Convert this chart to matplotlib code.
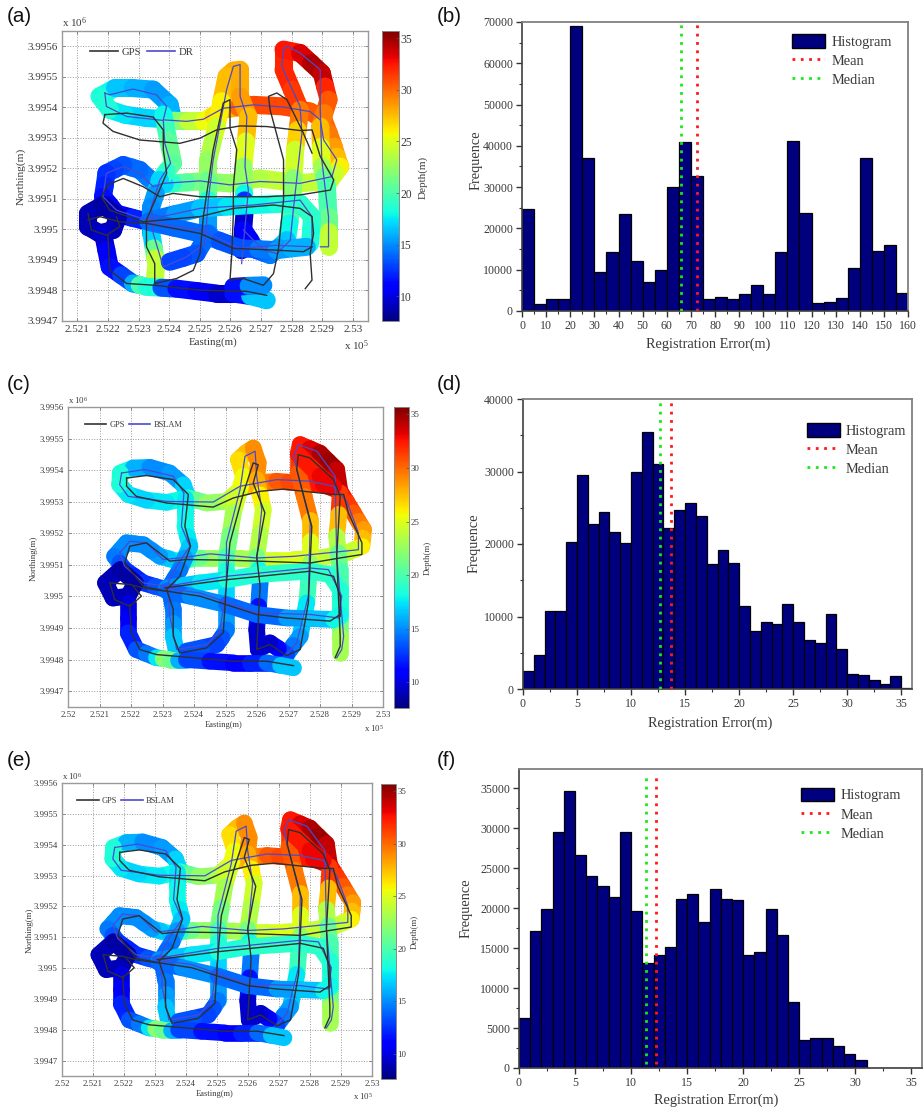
import matplotlib
matplotlib.use("Agg")
import numpy as np
import matplotlib.pyplot as plt
from matplotlib.collections import LineCollection
from matplotlib.colors import Normalize
from matplotlib.cm import ScalarMappable
from matplotlib.lines import Line2D
from matplotlib.patches import Patch
from matplotlib.ticker import FuncFormatter, MultipleLocator

plt.rcParams['font.family'] = ['Liberation Serif', 'DejaVu Serif']
plt.rcParams['mathtext.default'] = 'regular'

EAST0 = 252000
NORTH0 = 3994000

# Tracks: (easting offset m, northing offset m[, depth m])
ROADS_A = [
    [(173,1436,19),(222,1463,17),(282,1463,16),(348,1458,16),(402,1408,15),(413,1359,17),(326,1365,17),(255,1376,17),(206,1392,18),(173,1436,19)],
    [(413,1354,21),(462,1354,23),(512,1354,25),(545,1373,26),(577,1392,27),(626,1400,29),(675,1408,31),(774,1403,31),(861,1386,31),(905,1359,30),(922,1315,30),(938,1271,29),(948,1238,28),(959,1206,27),(943,1184,25),(927,1162,24),(878,1156,24),(828,1151,24),(762,1159,24),(697,1167,24),(648,1159,23),(599,1151,23),(550,1154,22),(501,1157,22),(457,1154,21),(413,1151,20),(386,1148,18),(359,1146,16),(331,1170,15),(304,1195,14),(277,1203,14),(250,1211,14),(222,1197,13),(195,1184,13),(190,1145,12),(184,1107,12),(206,1080,11),(228,1052,10),(280,1038,11),(332,1025,13)],
    [(381,1376,17),(389,1335,19),(397,1293,20),(405,1255,21),(413,1217,21),(391,1190,20),(370,1162,18),(356,1118,16),(342,1074,15),(342,1030,15),(342,987,15),(350,938,19),(355,905,23),(359,888,25),(353,834,23)],
    [(632,1523,28),(610,1520,28),(588,1501,28),(571,1420,27),(555,1337,25),(541,1282,24),(528,1228,23),(528,1162,22),(528,1096,20),(528,1040,17),(528,987,14),(509,954,14),(490,921,14),(446,907,13),(402,894,13)],
    [(632,1523,28),(632,1436,28),(659,1370,29),(651,1288,26),(643,1206,24),(645,1118,21),(646,1095,15),(648,1074,10),(642,1000,9),(637,932,9)],
    [(774,1589,32),(774,1523,32),(801,1458,32),(828,1392,31),(820,1326,28),(812,1261,26),(807,1168,23),(801,1074,21),(793,1020,19),(785,965,17),(757,940,16),(730,916,15),(708,924,14),(686,932,14),(665,965,12),(643,998,10)],
    [(774,1589,32),(828,1578,33),(864,1545,34),(899,1512,35),(910,1468,33),(921,1425,31),(907,1381,30),(894,1337,29),(896,1270,26),(899,1206,24),(907,1173,22),(916,1140,20),(918,1090,20),(921,1042,20),(921,990,22),(921,943,26)],
    [(342,1031,14),(420,1050,15),(501,1069,16),(588,1075,17),(675,1080,18),(750,1083,18),(828,1085,19),(867,1042,19),(864,998,19),(861,954,18)],
    [(332,1025,14),(416,1006,14),(501,987,14),(566,962,14),(632,938,13),(692,935,14),(752,932,15),(800,938,16),(850,943,16)],
    [(135,1052,9),(184,1080,8),(233,1042,9),(217,998,9),(173,987,9),(135,1009,9),(135,1052,9)],
    [(184,987,9),(195,932,10),(206,877,11),(244,850,12),(282,823,14),(304,818,18),(326,812,22),(375,809,15),(424,806,12),(490,798,11),(555,790,10),(610,790,9),(665,782,14),(719,768,19)],
    [(610,812,10),(660,815,13),(708,817,17)],
]
GPS_A = [
    [(190,1376),(184,1348),(217,1321),(304,1293),(435,1282),(501,1299),(555,1326),(632,1339),(719,1337),(828,1324),(867,1326),(894,1239),(938,1162),(927,1129),(828,1113),(719,1107),(610,1107),(501,1107),(413,1118),(370,1107),(315,1140),(250,1167),(200,1146),(179,1107),(206,1063),(315,1025),(501,1042),(610,1069),(741,1080),(828,1069),(867,1042),(872,987),(861,921),(867,834),(845,806)],
    [(190,1376),(261,1381),(348,1368),(381,1326),(381,1261),(392,1184),(359,1107),(326,1031),(326,943),(353,888),(353,823),(424,839),(479,866),(501,921),(512,1042),(544,1261),(577,1414),(599,1425),(599,1332),(621,1261),(610,1140),(610,1052),(605,921),(599,834),(643,839),(708,817),(741,855),(757,932),(774,1096),(774,1228),(730,1392),(725,1436),(752,1447),(785,1425),(834,1326),(867,1250)],
    [(135,1031),(173,1042),(239,1025),(326,1020),(501,987),(610,938),(752,932),(839,927),(867,943)],
    [(135,1052),(146,998),(195,981),(239,1009),(228,1042)],
    [(200,981),(206,866),(261,823),(353,817),(501,801),(654,797),(719,784)],
]
DR_A = [
    [(190,1447),(206,1441),(282,1460),(359,1441),(392,1403),(381,1359),(457,1354),(512,1361),(577,1397),(675,1408),(774,1401),(861,1386),(894,1359),(905,1293),(948,1228),(932,1173),(828,1151),(697,1157),(599,1146),(501,1159),(381,1151),(348,1140),(304,1184),(250,1206),(195,1184),(184,1107),(228,1063),(326,1031),(501,1069),(675,1080),(828,1096),(867,1042),(867,954)],
    [(190,1447),(195,1403),(261,1370),(381,1357),(386,1282),(405,1217),(370,1162),(342,1074),(348,987),(381,877),(457,910),(517,954),(528,1096),(544,1228),(588,1458),(610,1534),(632,1540),(632,1436),(654,1370),(648,1206),(659,1129),(637,888)],
    [(774,1589),(768,1534),(828,1403),(834,1315),(807,1074),(796,965),(752,921),(708,932),(643,998)],
    [(774,1589),(785,1600),(828,1578),(894,1523),(894,1392),(899,1228),(921,1042),(921,943),(894,943)],
    [(326,1025),(501,998),(632,938),(752,948),(867,943)],
]
ROADS_C = [
    [(166,1391,19),(207,1407,17),(260,1409,15),(323,1391,15),(366,1354,16),(382,1312,18),(313,1298,18),(249,1305,17),(191,1323,17),(164,1354,18),(166,1391,19)],
    [(382,1312,19),(411,1304,20),(440,1296,22),(503,1301,23),(525,1320,24),(546,1338,25),(572,1349,27),(599,1359,28),(630,1362,29),(662,1365,30),(700,1362,31),(737,1359,31),(774,1357,32),(811,1354,33),(864,1333,33),(885,1299,32),(906,1265,31),(922,1238,30),(938,1212,29),(936,1185,28),(933,1159,27),(909,1148,25),(885,1138,24),(842,1130,24),(800,1122,24),(758,1119,24),(716,1117,25),(658,1117,25),(599,1117,24),(551,1120,23),(503,1122,23),(461,1122,23),(419,1122,22),(382,1117,20),(345,1112,18),(318,1120,17),(292,1127,16),(265,1146,15),(239,1164,15),(212,1167,15),(186,1170,15),(167,1148,15),(148,1127,15),(164,1106,14),(180,1085,13),(210,1064,12),(239,1043,12),(276,1032,13),(313,1022,14)],
    [(371,1312,17),(371,1267,18),(371,1222,18),(379,1190,18),(387,1159,17),(371,1122,16),(355,1085,15),(339,1058,14),(323,1032,14),(328,995,14),(334,959,14),(334,916,15),(334,874,16),(345,821,17)],
    [(588,1470,29),(565,1455,28),(541,1433,27),(557,1381,26),(541,1323,25),(525,1265,24),(514,1196,22),(503,1127,21),(503,1085,19),(503,1043,18),(503,969,16),(503,895,15),(488,870,14),(472,848,13),(424,837,13),(376,827,14)],
    [(588,1470,29),(604,1423,29),(599,1370,29),(610,1322,27),(620,1275,25),(610,1200,24),(599,1127,23),(605,1085,20),(610,1043,16),(605,969,13),(599,895,10),(604,832,9)],
    [(731,1454,32),(731,1391,31),(750,1317,30),(769,1243,29),(769,1175,26),(769,1106,24),(763,1043,21),(758,980,18),(747,927,17),(737,874,16),(715,845,15),(694,816,14),(668,835,12),(641,853,10),(604,832,9)],
    [(731,1454,32),(737,1481,32),(768,1468,33),(800,1454,34),(826,1428,35),(853,1402,35),(864,1328,33),(860,1260,30),(853,1191,25),(858,1138,22),(864,1085,20),(864,1032,20),(864,980,20),(864,927,21),(864,874,22),(864,821,24)],
    [(731,1449,32),(800,1381,33),(843,1349,33)],
    [(313,1027,14),(366,1035,16),(419,1043,17),(503,1053,18),(599,1069,19),(684,1075,19),(769,1080,19),(832,1069,19),(864,1022,19),(864,937,18)],
    [(313,1017,13),(387,1001,15),(503,974,15),(599,943,13),(694,932,15),(768,930,16),(843,927,17),(864,943,19)],
    [(119,1043,9),(166,1085,9),(214,1043,8),(191,1001,9),(143,995,9),(119,1043,9)],
    [(191,980,10),(191,932,10),(191,885,11),(217,832,13),(249,819,14),(281,806,15),(302,803,20),(323,800,24),(350,800,18),(376,800,14),(450,795,12),(525,790,11),(578,790,11),(631,790,13),(675,782,15),(716,774,18)],
]
GPS_C = [
    [(186,1375),(186,1349),(217,1317),(313,1296),(461,1283),(525,1312),(610,1333),(684,1340),(843,1323),(875,1323),(890,1265),(933,1170),(933,1133),(864,1122),(769,1106),(599,1112),(503,1115),(376,1117),(323,1112),(249,1170),(196,1159),(180,1106),(239,1032),(313,1017),(419,1001),(599,943),(694,932),(832,922),(864,943)],
    [(186,1375),(249,1383),(334,1370),(382,1323),(371,1222),(389,1159),(355,1064),(313,1022),(334,959),(334,874),(355,821),(440,837),(493,885),(503,1043),(514,1170),(557,1328),(588,1423),(604,1417),(588,1359),(625,1265),(599,1127),(610,1032),(599,832),(641,848),(694,813),(737,832),(763,980),(774,1222),(726,1402),(731,1449),(768,1439),(843,1370),(864,1317),(853,1127),(864,874),(864,842),(848,806)],
    [(307,1027),(503,1053),(769,1080),(843,1064),(864,1001),(864,937)],
    [(133,1043),(196,1038),(239,1027),(307,1017)],
    [(133,1043),(148,990),(196,969),(233,1001),(207,1032)],
    [(196,974),(201,885),(228,832),(281,816),(525,795),(631,795),(716,781)],
]
BSLAM_C = [
    [(170,1391),(244,1402),(334,1381),(368,1328),(360,1222),(387,1159),(345,1096),(318,1043),(323,938),(345,832),(440,848),(482,890),(503,1032),(503,1170),(546,1338),(562,1444),(594,1460),(599,1381),(615,1275),(599,1117)],
    [(170,1391),(164,1354),(191,1317),(313,1301),(461,1299),(546,1349),(662,1370),(769,1365),(843,1349),(885,1301),(922,1201),(922,1148),(843,1140),(716,1127),(599,1122),(451,1135),(355,1122),(302,1117),(249,1170),(196,1175),(164,1138),(180,1096),(239,1043),(313,1032),(503,1064),(769,1090),(827,1085),(869,1001),(859,932),(769,943),(599,948),(419,1011),(302,1027)],
    [(716,1444),(731,1481),(790,1460),(848,1381),(853,1127),(875,874),(869,832),(853,806)],
    [(716,1444),(769,1233),(763,1001),(726,853),(694,816)],
]

# Histograms
FREQ_B = [24700,1800,2900,2900,69000,37000,9400,14400,23400,12000,7000,10000,30000,41000,32700,2900,
          3400,2900,4200,6300,4200,14200,41200,23800,2000,2300,3100,10500,37000,14500,16000,4400]
FREQ_D = [2500,4700,10800,10700,20300,29500,22700,24400,21700,20200,29900,35500,31000,22200,24700,25600,23900,17200,
          19200,17400,11400,8000,9200,8900,11700,9300,6700,6400,10300,5500,2100,2000,1300,700,1800,200]
FREQ_F = [6200,17100,19900,29600,34700,26700,24000,22800,21400,29600,19600,13100,14100,15100,21200,21800,18300,22400,
          21200,21000,14200,14500,19900,16600,8200,3500,3700,3700,2700,1700,1000,0,0,0,0,0]
MEAN_B, MEDIAN_B = 72.5, 66
MEAN_D, MEDIAN_D = 13.7, 12.65
MEAN_F, MEDIAN_F = 12.25, 11.3
LEGEND_LABELS = ['Histogram', 'Mean', 'Median']

W, H = 923, 1107
fig = plt.figure(figsize=(W/100, H/100), dpi=100)
TXT = '#3a3a3a'

def axpx(x0, y0, x1, y1):
    return fig.add_axes([x0/W, 1-y1/H, (x1-x0)/W, (y1-y0)/H])

def panel(x, y, s):
    fig.text(x/W, 1-y/H, s, family=['Liberation Sans'], fontsize=14.8, va='center', ha='left', color='#111111')

norm = Normalize(7.6, 35.7)
cmap = plt.get_cmap('jet')

def track_map(box, cbox, xlim, ylim, xticks, roads, gps, est, est_name, fs, cfs, lab, cblab, lw, leg):
    ax = axpx(*box)
    segs, cols = [], []
    for r in roads:
        for p, q in zip(r[:-1], r[1:]):
            segs.append([(EAST0+p[0], NORTH0+p[1]), (EAST0+q[0], NORTH0+q[1])])
            cols.append((p[2]+q[2])/2)
    lc = LineCollection(segs, colors=cmap(norm(np.array(cols))), linewidths=lw, capstyle='round', joinstyle='round', zorder=2)
    ax.add_collection(lc)
    for t in est:
        a = np.array(t)
        ax.plot(EAST0+a[:,0], NORTH0+a[:,1], color='#4a4ad0', lw=0.9, zorder=3)
    for t in gps:
        a = np.array(t)
        ax.plot(EAST0+a[:,0], NORTH0+a[:,1], color='#2f2f2f', lw=1.0, zorder=4)
    ax.set_xlim(*xlim); ax.set_ylim(*ylim)
    ax.set_xticks(xticks)
    ax.set_yticks(np.arange(3994700, 3995601, 100))
    ax.xaxis.set_major_formatter(FuncFormatter(lambda v, _: f"{v/1e5:.3f}".rstrip('0')))
    ax.yaxis.set_major_formatter(FuncFormatter(lambda v, _: f"{v/1e6:.4f}".rstrip('0')))
    ax.tick_params(direction='in', length=2.5, width=0.6, labelsize=fs, colors='#777777', labelcolor=TXT, pad=3, top=True, right=True)
    ax.grid(True, ls=':', lw=0.7, color='#9a9a9a', zorder=0)
    ax.set_axisbelow(True)
    for s in ax.spines.values():
        s.set_color('#9a9a9a'); s.set_linewidth(1.0)
    ax.set_xlabel('Easting(m)', fontsize=fs-0.2, color=TXT)
    ax.set_ylabel('Northing(m)', fontsize=fs+0.2, color=TXT)
    ax.xaxis.set_label_coords(*lab[0]); ax.yaxis.set_label_coords(*lab[1])
    ax.text(*lab[2], 'x 10$^{6}$', transform=ax.transAxes, fontsize=fs, color=TXT, ha='left', va='bottom')
    ax.text(*lab[3], 'x 10$^{5}$', transform=ax.transAxes, fontsize=fs, color=TXT, ha='left', va='center')
    h = [Line2D([], [], color='#333333', lw=1.2), Line2D([], [], color='#4a4ad0', lw=1.2)]
    ax.legend(h, ['GPS', est_name], ncol=2, loc='center left', bbox_to_anchor=leg, frameon=False, fontsize=fs-0.3,
              handlelength=2.6, handletextpad=0.35, columnspacing=0.5, borderpad=0, borderaxespad=0, labelcolor=TXT)
    cax = axpx(*cbox)
    cb = fig.colorbar(ScalarMappable(norm=norm, cmap=cmap), cax=cax)
    cb.set_ticks([10, 15, 20, 25, 30, 35])
    cb.ax.tick_params(length=2, width=0.5, labelsize=cfs, colors='#555555', labelcolor=TXT, pad=1, direction='in')
    cb.outline.set_edgecolor('#888888'); cb.outline.set_linewidth(0.7)
    fig.text(cblab[0]/W, 1-cblab[1]/H, 'Depth(m)', rotation=90, fontsize=fs, color=TXT, ha='center', va='center')
    return ax

def hist(box, freq, width, xlim, ylim, xmaj, ymaj, mean, median, vspan, lab, leg):
    ax = axpx(*box)
    ax.bar(np.arange(len(freq))*width, freq, width=width, align='edge', color='#00007f', edgecolor='black', linewidth=0.9, zorder=2)
    ax.set_xlim(*xlim); ax.set_ylim(*ylim)
    ax.xaxis.set_major_locator(MultipleLocator(xmaj)); ax.xaxis.set_minor_locator(MultipleLocator(xmaj/2))
    ax.yaxis.set_major_locator(MultipleLocator(ymaj)); ax.yaxis.set_minor_locator(MultipleLocator(ymaj/2))
    ax.tick_params(which='major', length=4, width=1, labelsize=8.6, labelcolor=TXT, pad=2.5, color='#333333')
    ax.tick_params(which='minor', length=2.5, width=0.8, color='#333333')
    for n in ('top', 'right'):
        ax.spines[n].set_color('#808080'); ax.spines[n].set_linewidth(1.3)
    for n in ('left', 'bottom'):
        ax.spines[n].set_color('#404040'); ax.spines[n].set_linewidth(1.2)
    ax.vlines(mean, *vspan, color='#ff1a1a', lw=2, linestyles=(0, (1, 2)), zorder=3)
    ax.vlines(median, *vspan, color='#18e818', lw=2, linestyles=(0, (1, 2)), zorder=3)
    ax.set_xlabel('Registration Error(m)', fontsize=10.4, color=TXT)
    ax.set_ylabel('Frequence', fontsize=10.4, color=TXT)
    ax.xaxis.set_label_coords(*lab[0]); ax.yaxis.set_label_coords(*lab[1])
    h = [Patch(facecolor='#00007f', edgecolor='black', linewidth=1.0),
         Line2D([], [], color='#ff1a1a', lw=2, ls=(0, (1, 2))),
         Line2D([], [], color='#18e818', lw=2, ls=(0, (1, 2)))]
    ax.legend(h, LEGEND_LABELS, loc='upper left', bbox_to_anchor=leg, frameon=False, fontsize=10.4, handlelength=2.3,
              handleheight=1.1, handletextpad=0.4, labelspacing=0.3, borderpad=0, borderaxespad=0, labelcolor=TXT)
    return ax

TICKS_A = np.arange(252100, 253001, 100)
TICKS_CE = np.arange(252000, 253001, 100)

track_map((62, 31, 368, 321), (382, 31, 399, 321), (252050, 253050), (3994700, 3995650), TICKS_A,
          ROADS_A, GPS_A, DR_A, 'DR', 8.0, 8.4,
          [(.494, -.058), (-.117, .50), (0.0, 1.005), (.92, -.085)], (423, 177), 13.0, (.093, .928))
track_map((68, 407, 383, 707), (394, 407, 409, 708), (252000, 253000), (3994650, 3995600), TICKS_CE,
          ROADS_C, GPS_C, BSLAM_C, 'BSLAM', 6.3, 6.3,
          [(.495, -.047), (-.095, .497), (0.0, 1.005), (.94, -.07)], (428, 558), 12.0, (.053, .939))
track_map((62, 783, 372, 1076), (381, 784, 396, 1079), (252000, 253000), (3994650, 3995600), TICKS_CE,
          ROADS_C, GPS_C, BSLAM_C, 'BSLAM', 6.3, 6.3,
          [(.4935, -.049), (-.09, .498), (0.0, 1.005), (.94, -.07)], (415, 932), 12.0, (.0485, .9375))

hist((522, 22, 908, 311), FREQ_B, 5, (0, 160), (0, 70000), 10, 10000, MEAN_B, MEDIAN_B, (0, 70000),
     [(.483, -.092), (-.102, .522)], (.70, .958))
hist((523, 399, 912, 689), FREQ_D, 1, (0, 36), (0, 40000), 5, 10000, MEAN_D, MEDIAN_D, (0, 40000),
     [(.482, -.096), (-.108, .502)], (.73, .918))
hist((519, 769, 922, 1068), FREQ_F, 1, (0, 35.95), (0, 37430), 5, 5000, MEAN_F, MEDIAN_F, (500, 36700),
     [(.489, -.084), (-.115, .534)], (.70, .938))

for x, y, s in [(7, 16, '(a)'), (437, 16, '(b)'), (7, 385, '(c)'), (437, 385, '(d)'), (7, 761, '(e)'), (437, 761, '(f)')]:
    panel(x, y, s)

fig.savefig('out.png', dpi=100, facecolor='white')
